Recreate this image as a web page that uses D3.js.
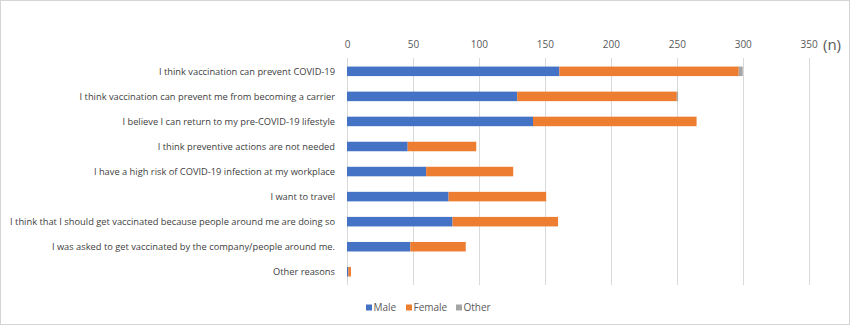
<!DOCTYPE html>
<meta charset="utf-8">
<style>
body { margin: 0; background: #fff; }
svg { display: block; font-family: "Open Sans", "Noto Sans", sans-serif; }
</style>
<svg width="850" height="325"></svg>
<script src="https://d3js.org/d3.v7.min.js"></script>
<script>

var reasons = [
  "I think vaccination can prevent COVID-19",
  "I think vaccination can prevent me from becoming a carrier",
  "I believe I can return to my pre-COVID-19 lifestyle",
  "I think preventive actions are not needed",
  "I have a high risk of COVID-19 infection at my workplace",
  "I want to travel",
  "I think that I should get vaccinated because people around me are doing so",
  "I was asked to get vaccinated by the company/people around me.",
  "Other reasons"
];
var male   = [161, 129, 141, 46, 60, 77, 80, 48, 1];
var female = [136, 121, 124, 52, 66, 74, 80, 42, 2];
var other  = [3, 1, 0, 0, 0, 0, 0, 0, 0];
var series = ["Male", "Female", "Other"];
var colors = ["#4472c4", "#ed7d31", "#a5a5a5"];
var xTicks = [0, 50, 100, 150, 200, 250, 300, 350];

var svg = d3.select("svg"),
    width = +svg.attr("width"),
    height = +svg.attr("height");

// outer frame
svg.append("rect")
    .attr("x", 0.5).attr("y", 0.5)
    .attr("width", width - 1).attr("height", height - 1)
    .attr("fill", "#fff")
    .attr("stroke", "#d4d4d4");

var rows = reasons.map(function(r, i) {
  return { reason: r, Male: male[i], Female: female[i], Other: other[i] };
});

var x = d3.scaleLinear().domain([0, 350]).range([347, 808.7]);
var y = d3.scaleBand().domain(reasons).range([58.8, 284.3])
    .paddingInner(0.62).paddingOuter(0.31);
var color = d3.scaleOrdinal().domain(series).range(colors);

// vertical gridlines
svg.append("g")
    .attr("stroke", "#d9d9d9")
    .selectAll("line")
    .data(xTicks)
  .join("line")
    .attr("x1", function(d) { return Math.round(x(d)) + 0.5; })
    .attr("x2", function(d) { return Math.round(x(d)) + 0.5; })
    .attr("y1", 58)
    .attr("y2", 285);

// tick labels on top
var xAxis = svg.append("g")
    .attr("transform", "translate(0,48)")
    .call(d3.axisTop(x).tickValues(xTicks).tickSize(0).tickPadding(0));
xAxis.select(".domain").remove();
xAxis.selectAll("text")
    .attr("fill", "#595959")
    .attr("font-size", 10)
    .attr("font-family", "'Open Sans', sans-serif");

svg.append("text")
    .attr("x", 832)
    .attr("y", 50)
    .attr("text-anchor", "middle")
    .attr("fill", "#595959")
    .attr("font-size", 15)
    .text("(n)");

// stacked bars
var stacked = d3.stack().keys(series)(rows);

svg.append("g")
  .selectAll("g")
  .data(stacked)
  .join("g")
    .attr("fill", function(d) { return color(d.key); })
  .selectAll("rect")
  .data(function(d) { return d; })
  .join("rect")
    .attr("x", function(d) { return x(d[0]); })
    .attr("y", function(d) { return y(d.data.reason); })
    .attr("width", function(d) { return x(d[1]) - x(d[0]); })
    .attr("height", y.bandwidth());

// category labels
var labels = svg.append("g")
    .attr("font-size", 9.3)
    .attr("fill", "#404040")
    .attr("text-anchor", "end")
  .selectAll("text")
  .data(reasons)
  .join("text")
    .attr("x", 335)
    .attr("y", function(d) { return y(d) + y.bandwidth() / 2; })
    .attr("dy", "0.35em")
    .text(function(d) { return d; });

// legend
var legendX = [366, 406, 456];
var legend = svg.append("g")
    .attr("font-size", 10)
    .attr("fill", "#595959")
  .selectAll("g")
  .data(series)
  .join("g")
    .attr("transform", function(d, i) { return "translate(" + legendX[i] + ",304.5)"; });

legend.append("rect")
    .attr("width", 6)
    .attr("height", 6)
    .attr("fill", function(d) { return color(d); });

legend.append("text")
    .attr("x", 7.5)
    .attr("y", 3)
    .attr("dy", "0.35em")
    .text(function(d) { return d; });

</script>
